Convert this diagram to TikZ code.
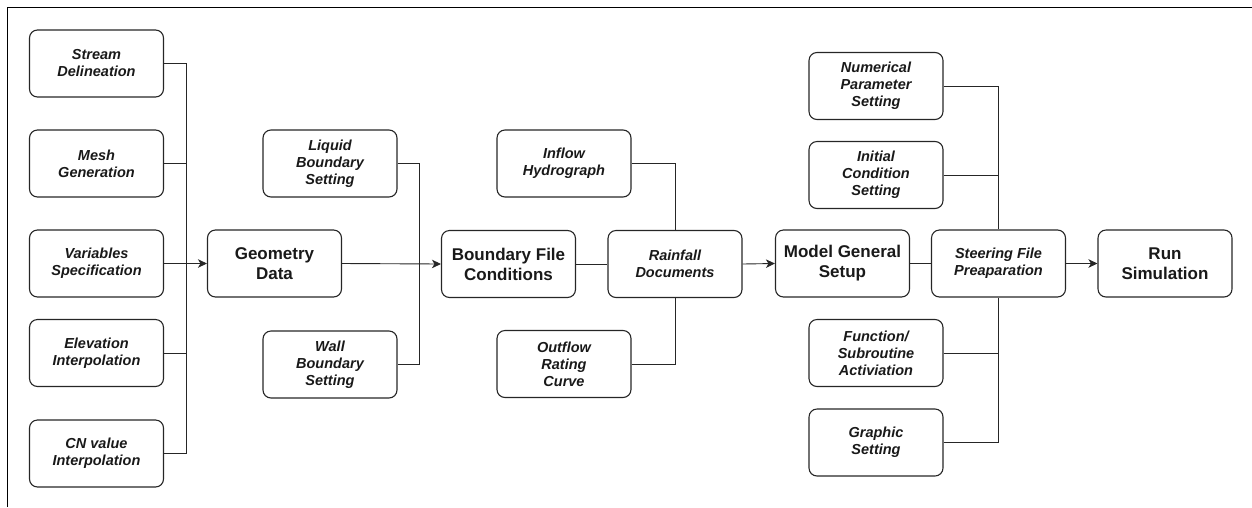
\documentclass[tikz,border=0pt]{standalone}
\usepackage{fontspec}
\setmainfont{Liberation Sans}
\usetikzlibrary{arrows.meta}
\tikzset{
  box/.style={draw=black!85, line width=1.1pt, rounded corners=8pt, minimum width=134pt, minimum height=67pt, inner sep=0pt, align=center, text=black!90},
  smallbox/.style={box, font=\fontsize{14.5}{17}\selectfont\bfseries\itshape},
  bigbox/.style={box, font=\fontsize{17}{20}\selectfont\bfseries},
  conn/.style={draw=black!85, line width=0.9pt},
  arr/.style={conn, -{Stealth[length=9pt,width=8.5pt,inset=2.5pt]}},
  frame/.style={draw=black, line width=1pt}
}
\begin{document}
\begin{tikzpicture}[x=1pt,y=-1pt]
\useasboundingbox (0,0) rectangle (1252,507);
\draw[frame] (7,507) -- (7,7) -- (1252,7);
% left column
\node[smallbox] (SD) at (96.5,63.5) {Stream\\Delineation};
\node[smallbox] (MG) at (96.5,163.5) {Mesh\\Generation};
\node[smallbox] (VS) at (96.5,263.5) {Variables\\Specification};
\node[smallbox] (EI) at (96.5,353) {Elevation\\Interpolation};
\node[smallbox] (CN) at (96.5,453.5) {CN value\\Interpolation};
\node[bigbox] (GD) at (274.5,263.5) {Geometry\\Data};
\node[smallbox] (LB) at (330,163.5) {Liquid\\Boundary\\Setting};
\node[smallbox] (WB) at (330,364.5) {Wall\\Boundary\\Setting};
\node[bigbox] (BF) at (508.5,264) {Boundary File\\Conditions};
\node[smallbox] (IH) at (564,163.5) {Inflow\\Hydrograph};
\node[smallbox] (OR) at (564,364) {Outflow\\Rating\\Curve};
\node[smallbox] (RD) at (675,264) {Rainfall\\Documents};
\node[bigbox] (MS) at (842.5,263.5) {Model General\\Setup};
\node[smallbox] (NP) at (876,86) {Numerical\\Parameter\\Setting};
\node[smallbox] (IC) at (876,175) {Initial\\Condition\\Setting};
\node[smallbox] (FS) at (876,353) {Function/\\Subroutine\\Activiation};
\node[smallbox] (GS) at (876,442.5) {Graphic\\Setting};
\node[smallbox] (SF) at (998.5,263.5) {Steering File\\Preaparation};
\node[bigbox] (RS) at (1165,263.5) {Run\\Simulation};
% connectors group 1
\draw[conn] (SD.east) -- ++(22,0) |- (CN.east);
\draw[conn] (MG.east) -- ++(22,0);
\draw[conn] (EI.east) -- ++(22,0);
\draw[arr] (VS.east) -- (GD.west);
% group 2
\draw[conn] (LB.east) -- ++(22,0) |- (WB.east);
\draw[arr] (GD.east) -- (BF.west);
% group 3
\draw[conn] (IH.east) -| (RD.north);
\draw[conn] (OR.east) -| (RD.south);
\draw[conn] (BF.east) -- (RD.west);
\draw[arr] (RD.east) -- (MS.west);
% group 4
\draw[conn] (MS.east) -- (SF.west);
\draw[conn] (NP.east) -| (SF.north);
\draw[conn] (IC.east) -- (IC.east -| SF.north);
\draw[conn] (GS.east) -| (SF.south);
\draw[conn] (FS.east) -- (FS.east -| SF.south);
\draw[arr] (SF.east) -- (RS.west);
\end{tikzpicture}
\end{document}
